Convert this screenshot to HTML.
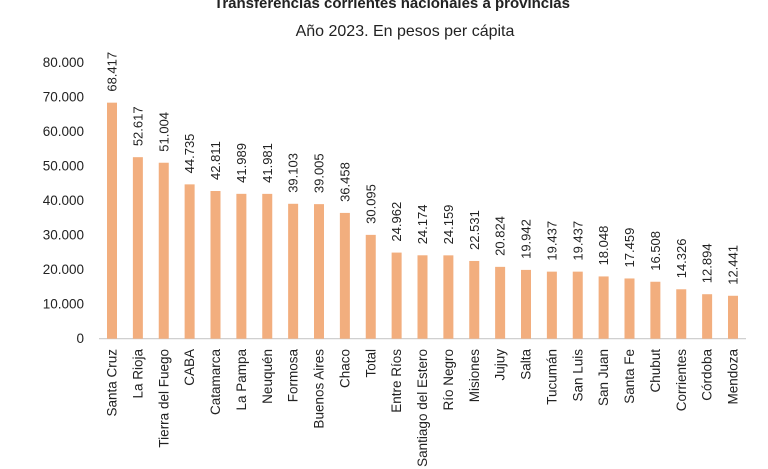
<!DOCTYPE html>
<html><head><meta charset="utf-8"><style>
html,body{margin:0;padding:0;background:#fff;width:768px;height:469px;overflow:hidden}
svg{display:block}
text{font-family:"Liberation Sans",sans-serif;fill:#222}
</style></head><body>
<svg width="768" height="469" xmlns="http://www.w3.org/2000/svg">
<text x="392" y="8" font-size="15" font-weight="bold" text-anchor="middle">Transferencias corrientes nacionales a provincias</text>
<text x="405" y="36" font-size="16" text-anchor="middle">Año 2023. En pesos per cápita</text>
<g font-size="13.5" text-anchor="end">
<text x="84" y="67">80.000</text>
<text x="84" y="101.5">70.000</text>
<text x="84" y="136">60.000</text>
<text x="84" y="170.5">50.000</text>
<text x="84" y="205">40.000</text>
<text x="84" y="239.5">30.000</text>
<text x="84" y="274">20.000</text>
<text x="84" y="308.5">10.000</text>
<text x="84" y="343">0</text>
</g>
<line x1="99" y1="338.7" x2="746" y2="338.7" stroke="#c9c9c9" stroke-width="1.2"/>
<g id="bars"></g>
</svg>
<script>
var d=[["Santa Cruz",68417],["La Rioja",52617],["Tierra del Fuego",51004],["CABA",44735],["Catamarca",42811],["La Pampa",41989],["Neuquén",41981],["Formosa",39103],["Buenos Aires",39005],["Chaco",36458],["Total",30095],["Entre Ríos",24962],["Santiago del Estero",24174],["Río Negro",24159],["Misiones",22531],["Jujuy",20824],["Salta",19942],["Tucumán",19437],["San Luis",19437],["San Juan",18048],["Santa Fe",17459],["Chubut",16508],["Corrientes",14326],["Córdoba",12894],["Mendoza",12441]];
var g=document.getElementById("bars"),s="";
d.forEach(function(e,i){var cx=112+i*25.875,h=e[1]*0.00345,top=338.7-h;
var v=(e[1]/1000).toFixed(3);
s+='<rect x="'+(cx-5)+'" y="'+top+'" width="10" height="'+h+'" fill="#F2AE7E"/>';
s+='<text transform="translate('+(cx+4.5)+','+(top-11)+') rotate(-90)" font-size="13">'+v+'</text>';
s+='<text transform="translate('+(cx+4.5)+',349) rotate(-90)" font-size="13.5" text-anchor="end">'+e[0]+'</text>';});
g.innerHTML=s;
</script>
</body></html>
